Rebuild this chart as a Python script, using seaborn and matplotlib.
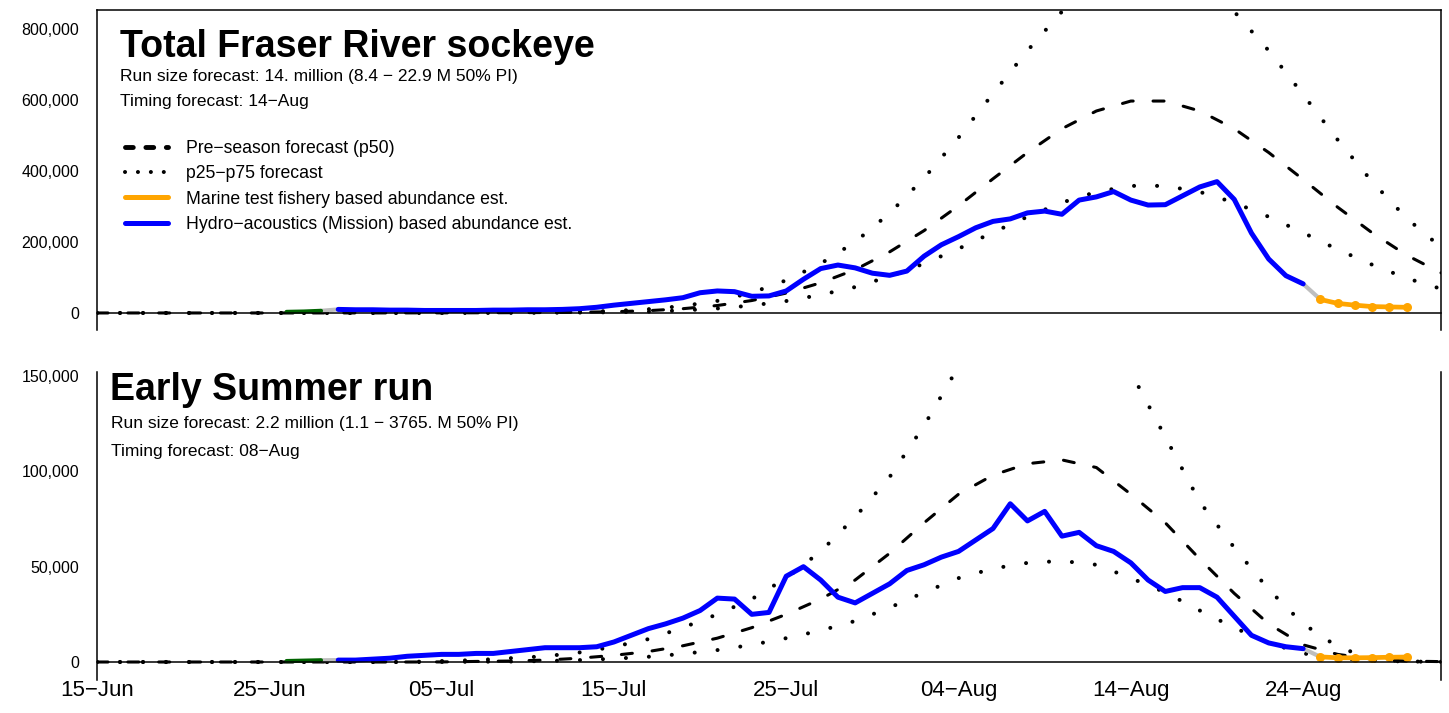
import pandas as pd
import seaborn as sns
import matplotlib.pyplot as plt
from matplotlib.lines import Line2D
from matplotlib.ticker import FuncFormatter

sns.set_style("white")
plt.rcParams['font.family'] = ['Liberation Sans', 'DejaVu Sans']
plt.rcParams['text.color'] = 'black'
plt.rcParams['xtick.color'] = 'black'
plt.rcParams['ytick.color'] = 'black'
plt.rcParams['axes.labelcolor'] = 'black'

# days counted from 15-Jun
fc_days = list(range(0, 79, 2))
obs_days = list(range(14, 71))
marine_days = [71, 72, 73, 74, 75, 76]
green_days = [11, 12, 13]

tick_days = [0, 10, 20, 30, 40, 50, 60, 70]
tick_labels = ["15−Jun", "25−Jun", "05−Jul", "15−Jul", "25−Jul", "04−Aug", "14−Aug", "24−Aug"]

# --- Total Fraser River sockeye ---
total_p50 = [0, 0, 0, 0, 0, 0, 0, 100, 100, 200, 300, 500, 800, 1200, 2000, 3500, 6500,
             12000, 21000, 35000, 56000, 85000, 122000, 172000, 232000, 302000, 378000,
             452000, 519000, 569000, 597000, 597000, 569000, 519000, 452000, 376000,
             298000, 226000, 163000, 113000]
total_p25 = [0, 0, 0, 0, 0, 0, 0, 60, 60, 120, 180, 300, 480, 720, 1200, 2100, 3900,
             7200, 12600, 21000, 33600, 51000, 73000, 103000, 139000, 181000, 227000,
             271000, 311000, 341000, 358000, 358000, 341000, 311000, 271000, 226000,
             179000, 136000, 98000, 68000]
total_p75 = [0, 0, 0, 0, 0, 0, 0, 160, 160, 330, 490, 820, 1300, 2000, 3300, 5700, 10600,
             19600, 34000, 57000, 92000, 139000, 200000, 281000, 380000, 494000, 618000,
             739000, 849000, 931000, 977000, 977000, 931000, 849000, 739000, 615000,
             488000, 370000, 267000, 185000]
total_hydro = [10000, 9000, 9000, 8000, 8000, 7000, 7000, 7000, 7000, 8000, 8000, 9000,
               9000, 10000, 12000, 16000, 22000, 27000, 32000, 37000, 43000, 57000, 62000,
               60000, 47000, 48000, 62000, 95000, 125000, 135000, 127000, 112000, 106000,
               118000, 160000, 192000, 215000, 240000, 258000, 265000, 282000, 287000,
               278000, 318000, 327000, 342000, 318000, 304000, 305000, 330000, 355000,
               370000, 320000, 225000, 152000, 105000, 82000]
total_marine = [38000, 27000, 22000, 18000, 17000, 16000]
total_green = [3000, 4000, 6000]

# --- Early Summer run ---
es_p50 = [0, 0, 0, 0, 0, 0, 0, 0, 0, 0, 50, 300, 500, 1000, 2000, 3500, 5500, 8500,
          12500, 18000, 25000, 33000, 43000, 57000, 73000, 88000, 98000, 104000, 106000,
          102000, 88000, 73000, 54000, 36000, 20000, 9000, 4000, 1500, 500, 200]
es_p25 = [0, 0, 0, 0, 0, 0, 0, 0, 0, 0, 25, 150, 250, 500, 1000, 1750, 2750, 4250, 6250,
          9000, 12500, 16500, 21500, 28500, 36500, 44000, 49000, 52000, 53000, 51000,
          44000, 36500, 27000, 18000, 10000, 4500, 2000, 750, 250, 100]
es_p75 = [0, 0, 0, 0, 0, 0, 0, 0, 0, 0, 500, 1000, 2000, 3000, 5000, 8000, 12000, 18000,
          25000, 33000, 44000, 58000, 76000, 97000, 124000, 155000, 185000, 205000, 212000,
          195000, 152000, 118000, 84000, 60000, 38000, 20000, 8000, 1500, 300, 100]
es_hydro = [1000, 1000, 1500, 2000, 3000, 3500, 4000, 4000, 4500, 4500, 5500, 6500, 7500,
            7500, 7500, 8000, 10500, 14000, 17500, 20000, 23000, 27000, 33500, 33000, 25000,
            26000, 45000, 50000, 43000, 34000, 31000, 36000, 41000, 48000, 51000, 55000,
            58000, 64000, 70000, 83000, 74000, 79000, 66000, 68000, 61000, 58000, 52000,
            43000, 37000, 39000, 39000, 34000, 24000, 14000, 10000, 8000, 7000]
es_marine = [2700, 2200, 2200, 2300, 2500, 2600]
es_green = [500, 700, 900]

W, H = 1449, 713
fig = plt.figure(figsize=(W / 100, H / 100), dpi=100)


def px_box(x0, y0, x1, y1):
    return [x0 / W, 1 - y1 / H, (x1 - x0) / W, (y1 - y0) / H]


DASH = (0, (3.6, 6.5))
DOT = (0, (0.01, 5.7))


def draw_panel(ax, p50, p25, p75, hydro, marine, green):
    sns.lineplot(x=fc_days, y=p25, ax=ax, color="black", lw=2.9, linestyle=DOT,
                 dash_capstyle="round")
    sns.lineplot(x=fc_days, y=p75, ax=ax, color="black", lw=2.9, linestyle=DOT,
                 dash_capstyle="round")
    sns.lineplot(x=fc_days, y=p50, ax=ax, color="black", lw=2.2, linestyle=DASH,
                 dash_capstyle="round")
    # connectors between data sources
    sns.lineplot(x=[green_days[-1], obs_days[0]], y=[green[-1], hydro[0]], ax=ax,
                 color="#BEBEBE", lw=3, solid_capstyle="round")
    sns.lineplot(x=[obs_days[-1], marine_days[0]], y=[hydro[-1], marine[0]], ax=ax,
                 color="#BEBEBE", lw=3, solid_capstyle="round")
    sns.lineplot(x=green_days, y=green, ax=ax, color="#006400", lw=3,
                 solid_capstyle="round")
    sns.lineplot(x=obs_days, y=hydro, ax=ax, color="#0000FF", lw=3.6,
                 solid_capstyle="round")
    sns.lineplot(x=marine_days, y=marine, ax=ax, color="#FFA500", lw=3.4,
                 marker="o", markersize=6.5, markeredgewidth=0, solid_capstyle="round")

    ax.set_xlim(0, 78)
    ax.set_xticks(tick_days)
    ax.set_xlabel("")
    ax.set_ylabel("")
    ax.spines["bottom"].set_position(("data", 0))
    for s in ax.spines.values():
        s.set_color("black")
        s.set_linewidth(1.1)
    ax.tick_params(axis="both", direction="out", length=10, width=1.1, color="black")
    ax.tick_params(axis="y", labelsize=11.5, pad=3)
    ax.yaxis.set_major_formatter(FuncFormatter(lambda v, p: f"{int(v):,}"))


ax_top = fig.add_axes(px_box(97, 10, 1441, 330))
draw_panel(ax_top, total_p50, total_p25, total_p75, total_hydro, total_marine, total_green)
ax_top.set_ylim(-48000, 853500)
ax_top.set_yticks([0, 200000, 400000, 600000, 800000])
ax_top.set_xticklabels([])

ax_bot = fig.add_axes(px_box(97, 372, 1441, 680))
draw_panel(ax_bot, es_p50, es_p25, es_p75, es_hydro, es_marine, es_green)
ax_bot.set_ylim(-9440, 152100)
ax_bot.set_yticks([0, 50000, 100000, 150000])
ax_bot.spines["top"].set_visible(False)
ax_bot.set_xticklabels(tick_labels, fontsize=16)
ax_bot.tick_params(axis="x", pad=3)

# titles and forecast notes
fig.text(120 / W, 1 - 57 / H, "Total Fraser River sockeye", fontsize=27, fontweight="bold")
fig.text(120 / W, 1 - 81 / H, "Run size forecast: 14. million (8.4 − 22.9 M 50% PI)", fontsize=12.5)
fig.text(120 / W, 1 - 106 / H, "Timing forecast: 14−Aug", fontsize=12.5)

fig.text(110 / W, 1 - 400 / H, "Early Summer run", fontsize=27, fontweight="bold")
fig.text(111 / W, 1 - 428 / H, "Run size forecast: 2.2 million (1.1 − 3765. M 50% PI)", fontsize=12.5)
fig.text(111 / W, 1 - 456 / H, "Timing forecast: 08−Aug", fontsize=12.5)

handles = [
    Line2D([], [], color="black", lw=3.5, linestyle=(0, (1.6, 2.6)), dash_capstyle="round"),
    Line2D([], [], color="black", lw=2.9, linestyle=(0, (0.01, 3.2)), dash_capstyle="round"),
    Line2D([], [], color="#FFA500", lw=3.6),
    Line2D([], [], color="#0000FF", lw=3.6),
]
labels = ["Pre−season forecast (p50)", "p25−p75 forecast",
          "Marine test fishery based abundance est.",
          "Hydro−acoustics (Mission) based abundance est."]
ax_top.legend(handles, labels, loc="upper left", bbox_to_anchor=(125 / W, 1 - 140 / H),
              bbox_transform=fig.transFigure, frameon=False, fontsize=12.7,
              borderpad=0, borderaxespad=0, handlelength=2.45, handletextpad=1.0,
              labelspacing=0.47)

fig.savefig("out.png", dpi=100)
